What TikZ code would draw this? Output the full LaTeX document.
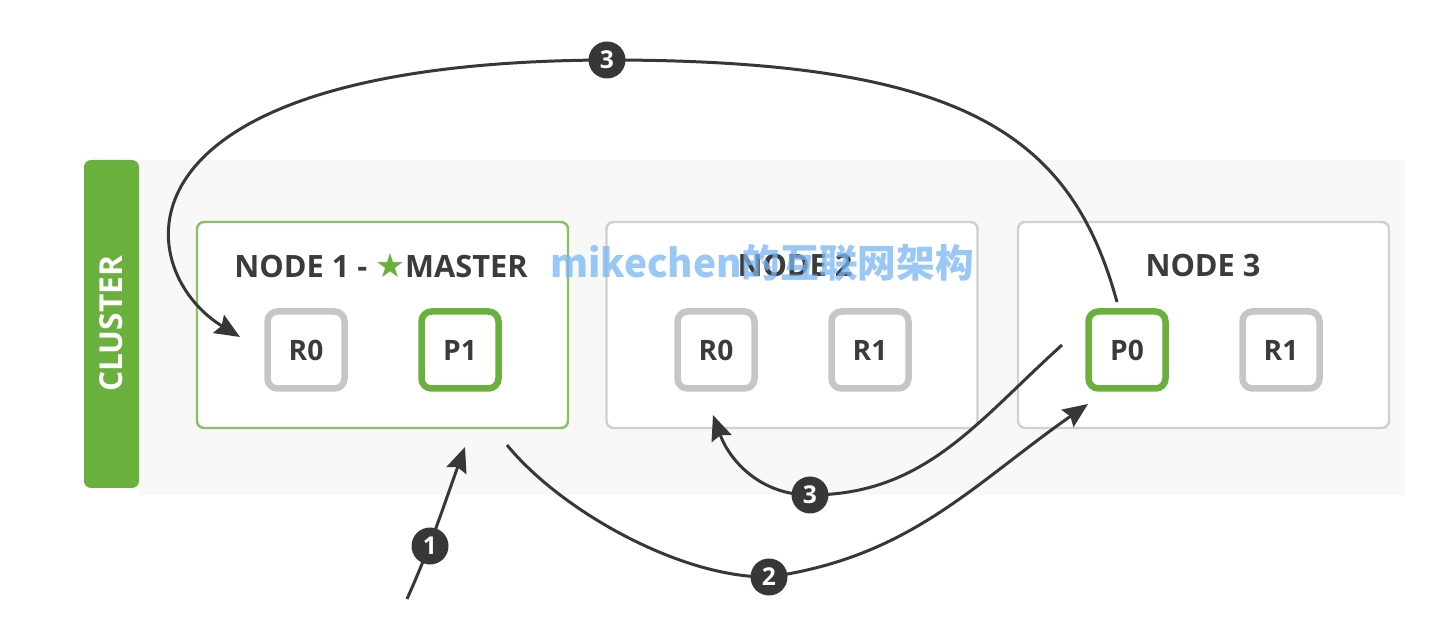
\documentclass[tikz,border=0pt]{standalone}
\usepackage{fontspec}
\setmainfont{Open Sans}
\newfontfamily\cjk{Noto Sans CJK SC}
\newfontfamily\sym{DejaVu Sans}
\usepackage{xcolor}
\usepackage{tikz}
\usetikzlibrary{arrows.meta,positioning,shapes}
\definecolor{esgreen}{RGB}{106,176,61}
\definecolor{boxgray}{RGB}{208,208,208}
\definecolor{shardgray}{RGB}{198,198,198}
\definecolor{textgray}{RGB}{59,59,59}
\definecolor{linegray}{RGB}{55,55,55}
\definecolor{bandbg}{RGB}{248,249,246}
\definecolor{wmblue}{RGB}{120,182,245}
\tikzset{
	node distance = 1 cm and 1 cm,
	cluster/.style = {fill=esgreen, rotate=90, minimum width=6.56cm, minimum height=1.1cm, rounded corners=4pt, text=white, font=\bfseries\fontsize{18}{18}\selectfont},
	box/.style = {draw=boxgray, line width=1.4pt, rounded corners=4pt, fill=white, minimum width=7.42cm, minimum height=4.12cm},
	title/.style = {font=\bfseries\fontsize{17.5}{17.5}\selectfont, text=textgray},
	shard/.style = {draw=shardgray, line width=0.13cm, rounded corners=0.2cm, fill=white, minimum size=1.54cm, inner sep=0, font=\bfseries\fontsize{16}{16}\selectfont, text=textgray},
	primary/.style = {shard, draw=esgreen},
	num/.style = {circle, fill=linegray, text=white, minimum size=0.74cm, inner sep=0, font=\bfseries\fontsize{14}{14}\selectfont},
	link/.style = {-{Stealth[length=0.5cm,width=0.42cm,inset=0.07cm]}, line width=1.7pt, draw=linegray},
	wm/.style = {text=wmblue, opacity=0.75, inner sep=0, font=\cjk\bfseries\fontsize{22}{22}\selectfont}
}

\begin{document}
\begin{tikzpicture}
    \useasboundingbox (0,0) rectangle (28.8,12.84);
    \fill[white] (0,0) rectangle (28.8,12.84);
    \fill[bandbg] (2.78,2.94) rectangle (28.1,9.64);
    \node[cluster] (cl) at (2.23,6.36) {CLUSTER};

    \node[box, draw=esgreen!80] (n1) at (7.65,6.34) {};
    \node[box] (n2) at (15.84,6.34) {};
    \node[box] (n3) at (24.07,6.34) {};

    \node[title] (t1) at (7.62,7.52) {NODE 1 - {\sym\color{esgreen}\fontsize{19}{19}\selectfont ★}MASTER};
    \node[title] (t2) at (15.9,7.52) {NODE 2};
    \node[title] (t3) at (24.06,7.52) {NODE 3};

    \node[shard] (r0a) at (6.12,5.84) {R0};
    \node[primary] (p1) at (9.2,5.84) {P1};
    \node[shard] (r0b) at (14.32,5.84) {R0};
    \node[shard] (r1b) at (17.4,5.84) {R1};
    \node[primary] (p0) at (22.54,5.84) {P0};
    \node[shard] (r1c) at (25.62,5.84) {R1};

    % free ends and step marks
    \coordinate (s1) at (8.14,0.86);
    \coordinate (e1) at (9.30,3.90);
    \coordinate (c1) at (8.60,1.92);
    \coordinate (s2) at (10.14,3.94);
    \coordinate (e2) at (21.76,4.76);
    \coordinate (c2) at (15.38,1.30);
    \coordinate (s3) at (21.24,5.94);
    \coordinate (e3) at (14.26,4.54);
    \coordinate (c3) at (16.20,2.94);
    \coordinate (s4) at (22.34,6.80);
    \coordinate (e4) at (4.80,6.10);
    \coordinate (c4) at (12.14,11.64);

    \draw[link] (s1) to[out=66,in=-110] (e1);
    \draw[link] (s2) .. controls (11.2,2.64) and (13.6,1.28) .. (c2) to[out=8,in=-145] (e2);
    \draw[link] (s3) to[out=-138,in=0] (c3) to[out=180,in=-70] (e3);
    \draw[link] (s4) .. controls (21.42,10.16) and (19.28,11.64) .. (c4)
        .. controls (2.0,11.6) and (2.6,7.44) .. (e4);

    \node[num] (k1) at (c1) {1};
    \node[num] (k2) at (c2) {2};
    \node[num] (k3) at (c3) {3};
    \node[num] (k4) at (c4) {3};

    \node[wm, anchor=base west] (wm) at (11.0,7.28) {mikechen的互联网架构};
\end{tikzpicture}
\end{document}
